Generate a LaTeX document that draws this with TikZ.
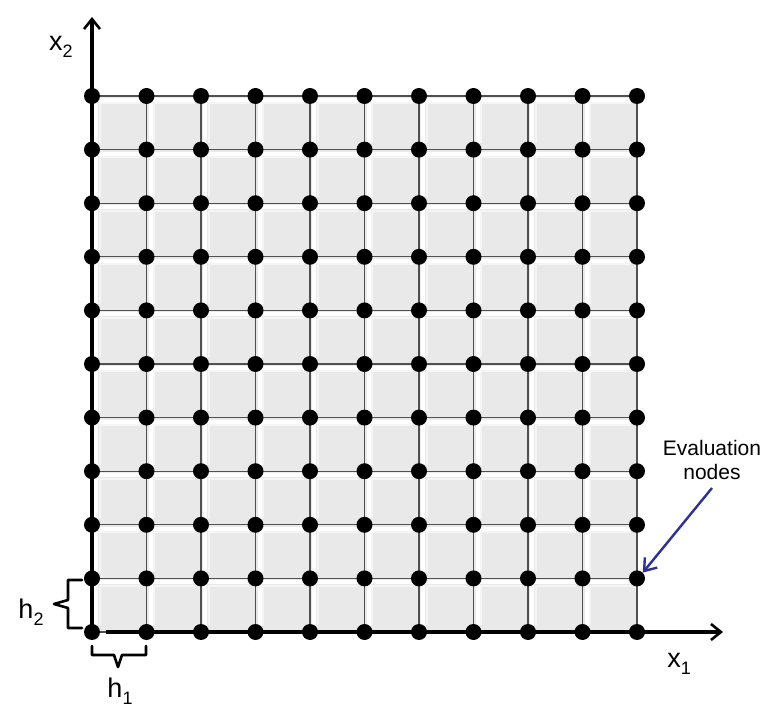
\documentclass[tikz,border=0pt]{standalone}
\usepackage{fontspec}
\setmainfont{Liberation Sans}
\usetikzlibrary{arrows.meta}
\definecolor{cellgray}{HTML}{E9E9E9}
\definecolor{gridline}{HTML}{505050}
\definecolor{navy}{HTML}{2E318F}
\newcommand{\lblsub}[2]{#1\raisebox{-0.28em}{\fontsize{18}{20}\selectfont #2}}
\begin{document}
\begin{tikzpicture}[x=1pt,y=-1pt,
  dot/.style={circle,fill=black,inner sep=0pt,minimum size=16pt},
  gridln/.style={draw=gridline,line width=1.1pt},
  axis/.style={line width=3.4pt,-{Straight Barb[length=10pt,width=16pt,line width=2.6pt]}},
  lbl/.style={font=\fontsize{27}{30}\selectfont,inner sep=0pt},
  brace/.style={line width=2.6pt,line cap=round,line join=round}]
\useasboundingbox[fill=white] (0,0) rectangle (777,711);
% coordinates
\foreach \i in {0,...,10}{
  \foreach \j in {0,...,10}{
    \coordinate (c-\i-\j) at ({92+54.5*\i},{632-53.6*\j});
  }
}
% cells
\foreach \i in {0,...,9}{
  \foreach \j in {1,...,10}{
    \pgfmathsetmacro{\xa}{92+54.5*\i}
    \pgfmathsetmacro{\ya}{632-53.6*\j}
    \fill[cellgray] (\xa,\ya) rectangle ({\xa+54.5},{\ya+53.6});
    \draw[white,line width=4pt,line join=round] ({\xa+4},{\ya+50}) -- ({\xa+4},{\ya+4}) -- ({\xa+51},{\ya+4});
    \draw[white!55!cellgray,line width=2pt] ({\xa+7.5},{\ya+47}) -- ({\xa+7.5},{\ya+7.5}) -- ({\xa+48},{\ya+7.5});
  }
}
% grid lines
\foreach \i [evaluate=\i as \k using int(\i+1)] in {0,...,9}{
  \foreach \j in {0,...,10}{
    \draw[gridln] (c-\i-\j) -- (c-\k-\j);
    \draw[gridln] (c-\j-\i) -- (c-\j-\k);
  }
}
% axes
\coordinate (ytop) at (92,17);
\coordinate (xstart) at (106,632);
\coordinate (xend) at (723,632);
\draw[axis] (c-0-0) -- (ytop);
\draw[axis] (xstart) -- (xend);
% dots
\foreach \i in {0,...,10}{
  \foreach \j in {0,...,10}{
    \node[dot] (n-\i-\j) at (c-\i-\j) {};
  }
}
% labels
\node[lbl] (x2) at (61,47) {\lblsub{x}{2}};
\node[lbl] (x1) at (679,664) {\lblsub{x}{1}};
\node[lbl] (h2) at (31,612) {\lblsub{h}{2}};
\node[lbl] (h1) at (120,691) {\lblsub{h}{1}};
% braces
\draw[brace] (82,580) -- (68,580) -- (68,600) -- (54,604) -- (68,608) -- (68,628) -- (82,628);
\draw[brace] (92,646) -- (92,655) -- (114,655) -- (118,667) -- (122,655) -- (146,655) -- (146,646);
% evaluation nodes
\node[font=\fontsize{21}{24}\selectfont,align=center,inner sep=0pt] (ev) at (712,460) {Evaluation\\nodes};
\coordinate (evs) at (712,488);
\draw[navy,line width=2.4pt,-{Straight Barb[length=11pt,width=16pt,line width=2.4pt]}] (evs) -- (n-10-1.north east);
\end{tikzpicture}
\end{document}
